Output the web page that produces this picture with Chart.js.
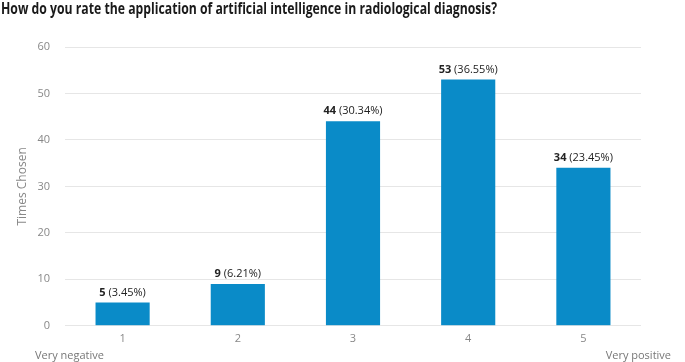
<!DOCTYPE html>
<html>
<head>
<meta charset="utf-8">
<script src="https://cdn.jsdelivr.net/npm/chart.js@4"></script>
<style>
  html, body { margin: 0; padding: 0; background: #fff; }
  #wrap { width: 685px; height: 362px; position: relative; }
</style>
</head>
<body>
<div id="wrap"><canvas id="myChart" width="685" height="362"></canvas></div>
<script>
// data
const categories = ['1', '2', '3', '4', '5'];
const timesChosen = [5, 9, 44, 53, 34];
const percentLabels = ['3.45%', '6.21%', '30.34%', '36.55%', '23.45%'];
const yTicks = [0, 10, 20, 30, 40, 50, 60];
const scaleEnds = ['Very negative', 'Very positive'];
const chartTitle = 'How do you rate the application of artificial intelligence in radiological diagnosis?';

const FONT = '"Open Sans", sans-serif';
const barColor = '#0a8bc8';

// condensed bold title, then count (bold) + percentage above each bar,
// plus the two end labels under the x axis
const barLabels = {
  id: 'barLabels',
  afterDatasetsDraw(chart) {
    const ctx = chart.ctx;
    ctx.save();
    ctx.font = 'bold 16px ' + FONT;
    ctx.fillStyle = '#1a1a1a';
    ctx.textAlign = 'left';
    ctx.textBaseline = 'alphabetic';
    const tw = ctx.measureText(chartTitle).width;
    ctx.translate(1, 14);
    ctx.scale(496 / tw, 1);
    ctx.fillText(chartTitle, 0, 0);
    ctx.restore();

    const meta = chart.getDatasetMeta(0);
    ctx.save();
    ctx.textBaseline = 'alphabetic';
    meta.data.forEach((bar, i) => {
      const bold = String(timesChosen[i]);
      const rest = ' (' + percentLabels[i] + ')';
      ctx.font = 'bold 11px ' + FONT;
      const w1 = ctx.measureText(bold).width;
      ctx.font = '11px ' + FONT;
      const w2 = ctx.measureText(rest).width;
      let x = bar.x - (w1 + w2) / 2;
      const y = bar.y - 7;
      ctx.fillStyle = '#222';
      ctx.textAlign = 'left';
      ctx.font = 'bold 11px ' + FONT;
      ctx.fillText(bold, x, y);
      ctx.font = '11px ' + FONT;
      ctx.fillText(rest, x + w1, y);
    });
    ctx.font = '11px ' + FONT;
    ctx.fillStyle = '#777';
    ctx.textAlign = 'left';
    ctx.fillText(scaleEnds[0], 35, 359);
    ctx.textAlign = 'right';
    ctx.fillText(scaleEnds[1], 671, 359);
    ctx.restore();
  }
};

const ctx = document.getElementById('myChart').getContext('2d');
const myChart = new Chart(ctx, {
  type: 'bar',
  data: {
    labels: categories,
    datasets: [{
      label: 'Times Chosen',
      data: timesChosen,
      backgroundColor: barColor,
      borderWidth: 0,
      barPercentage: 0.47,
      categoryPercentage: 1
    }]
  },
  options: {
    responsive: false,
    animation: false,
    layout: { padding: { left: 15, right: 44, top: 47, bottom: 11 } },
    plugins: {
      legend: { display: false },
      tooltip: { enabled: false },
      title: { display: false }
    },
    scales: {
      x: {
        grid: { display: false, drawTicks: false },
        border: { display: false },
        ticks: { color: '#888', font: { family: FONT, size: 11 }, padding: 6 }
      },
      y: {
        min: 0,
        max: 60,
        afterBuildTicks(axis) { axis.ticks = yTicks.map(v => ({ value: v })); },
        afterFit(axis) { axis.width = 50; },
        grid: { color: '#e6e6e6', lineWidth: 1, drawTicks: false },
        border: { display: false },
        ticks: { color: '#888', font: { family: FONT, size: 11 }, padding: 15 },
        title: {
          display: true,
          text: 'Times Chosen',
          color: '#888',
          font: { family: FONT, size: 12 },
          padding: { top: 0, bottom: 0 }
        }
      }
    }
  },
  plugins: [barLabels]
});
</script>
</body>
</html>
